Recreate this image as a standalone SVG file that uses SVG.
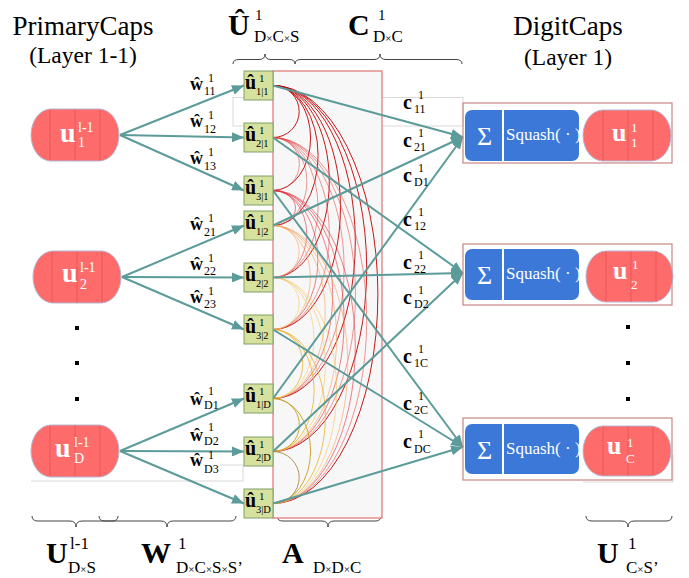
<svg xmlns="http://www.w3.org/2000/svg" width="689" height="578" viewBox="0 0 689 578">
  <defs>
    <style>
      .t { font-family: "Liberation Serif", "Times New Roman", serif; fill: #000; }
      .b { font-weight: bold; }
      .wt { fill: #fff; }
      .x { font-size: 11px; }
      .cap { fill: #fe6b6b; stroke: #b4b8d4; stroke-width: 1; }
      .capline { stroke: #ec5656; stroke-width: 1; }
      .box { fill: #d5e19d; stroke: #7f9f6a; stroke-width: 1; }
      .blue { fill: #3c78d8; }
      .outer { fill: none; stroke: #c98585; stroke-width: 1.2; }
      .brace { fill: none; stroke: #444; stroke-width: 1; }
      .guide { fill: none; stroke: #d9d9d9; stroke-width: 1; }
      .conn { stroke: #5b9b99; stroke-width: 2; fill: none; marker-end: url(#ah); }
      .arc { fill: none; stroke-width: 1; }
      .a0 { stroke: #c00000; stroke-opacity: 0.9; }
      .a1 { stroke: #e04545; stroke-opacity: 0.55; }
      .a2 { stroke: #dd3040; stroke-opacity: 0.6; }
      .a3 { stroke: #f4a25a; stroke-opacity: 0.6; }
      .a4 { stroke: #f5c860; stroke-opacity: 0.6; }
      .a5 { stroke: #eab330; stroke-opacity: 0.8; }
      .a6 { stroke: #c9a020; stroke-opacity: 0.9; }
      .a7 { stroke: #a68a50; stroke-opacity: 0.9; }
    </style>
    <marker id="ah" viewBox="0 0 12 10" refX="12" refY="5" markerWidth="12" markerHeight="10" markerUnits="userSpaceOnUse" orient="auto">
      <path d="M0,0 L12,5 L0,10 z" fill="#5b9b99"/>
    </marker>
  </defs>

  <rect width="689" height="578" fill="#fff"/>

  <!-- faint layout guides -->
  <g id="guides">
    <rect class="guide" x="233" y="97.5" width="230" height="28.5"/>
    <polyline class="guide" points="31,481 243,481 243,465 220,465"/>
    <polyline class="guide" stroke="#f0caca" points="583,482 673,482 673,455"/>
  </g>

  <!-- headings -->
  <g id="headings">
    <text class="t" x="83" y="35" font-size="27" text-anchor="middle">PrimaryCaps</text>
    <text class="t" x="83" y="63" font-size="23.5" text-anchor="middle">(Layer 1-1)</text>
    <text class="t" x="568" y="35" font-size="27" text-anchor="middle">DigitCaps</text>
    <text class="t" x="568" y="65" font-size="23.5" text-anchor="middle">(Layer 1)</text>

    <text class="t b" x="228" y="35" font-size="30">Û</text>
    <text class="t" x="255" y="20" font-size="15">1</text>
    <text class="t" x="254" y="42" font-size="17">D<tspan class="x">×</tspan>C<tspan class="x">×</tspan>S</text>

    <text class="t b" x="348" y="35" font-size="30">C</text>
    <text class="t" x="378" y="20" font-size="15">1</text>
    <text class="t" x="373" y="42" font-size="17">D<tspan class="x">×</tspan>C</text>

    <text class="t b" x="46" y="563" font-size="30">U</text>
    <text class="t" x="70" y="549" font-size="17">l-1</text>
    <text class="t" x="68" y="573" font-size="17">D<tspan class="x">×</tspan>S</text>

    <text class="t b" x="141" y="563" font-size="30">W</text>
    <text class="t" x="178" y="549" font-size="17">1</text>
    <text class="t" x="176" y="573" font-size="17">D<tspan class="x">×</tspan>C<tspan class="x">×</tspan>S<tspan class="x">×</tspan>S’</text>

    <text class="t b" x="282" y="563" font-size="30">A</text>
    <text class="t" x="313" y="573" font-size="17">D<tspan class="x">×</tspan>D<tspan class="x">×</tspan>C</text>

    <text class="t b" x="597" y="563" font-size="30">U</text>
    <text class="t" x="628" y="549" font-size="17">1</text>
    <text class="t" x="626" y="573" font-size="17">C<tspan class="x">×</tspan>S’</text>
  </g>

  <!-- braces -->
  <g id="braces">
    <path class="brace" d="M233,64 Q233,59.5 239,59.5 L259,59.5 Q265,59.5 265,54 Q265,59.5 271,59.5 L289,59.5 Q295,59.5 295,64"/>
    <path class="brace" d="M295,64 Q295,59.5 301,59.5 L374,59.5 Q380,59.5 380,54 Q380,59.5 386,59.5 L456,59.5 Q462,59.5 462,64"/>
    <path class="brace" d="M32,516 Q32,521 38,521 L70,521 Q76,521 76,527 Q76,521 82,521 L112,521 Q118,521 118,516"/>
    <path class="brace" d="M99,516 Q99,521 105,521 L161,521 Q167,521 167,527 Q167,521 173,521 L230,521 Q236,521 236,516"/>
    <path class="brace" d="M277,516 Q277,521 283,521 L322,521 Q328,521 328,527 Q328,521 334,521 L375,521 Q381,521 381,516"/>
    <path class="brace" d="M586,516 Q586,521 592,521 L622,521 Q628,521 628,527 Q628,521 634,521 L666,521 Q672,521 672,516"/>
  </g>

  <!-- coupling matrix panel -->
  <rect id="panel" x="273" y="71" width="109" height="447" fill="#f7f7f7" stroke="#e07272" stroke-width="1.2"/>

  <!-- agreement arcs between predictions -->
  <g id="arcs">
    <path class="arc a0" d="M273,85.5 A26.2,26 0 0 1 273,137.5 M273,85.5 A37.6,52.5 0 0 1 273,190.5 M273,85.5 A45.1,70 0 0 1 273,225.5 M273,85.5 A56.3,96 0 0 1 273,277.5 M273,85.5 A67.5,122 0 0 1 273,329.5 M273,85.5 A82.3,156.5 0 0 1 273,398.5 M273,85.5 A93.7,183 0 0 1 273,451.5 M273,85.5 A104.9,209 0 0 1 273,503.5"/>
    <path class="arc a1" d="M273,137.5 A26.4,26.5 0 0 1 273,190.5 M273,137.5 A33.9,44 0 0 1 273,225.5 M273,137.5 A45.1,70 0 0 1 273,277.5 M273,137.5 A56.3,96 0 0 1 273,329.5 M273,137.5 A71.1,130.5 0 0 1 273,398.5 M273,137.5 A82.5,157 0 0 1 273,451.5 M273,137.5 A93.7,183 0 0 1 273,503.5"/>
    <path class="arc a2" d="M273,190.5 A22.5,17.5 0 0 1 273,225.5 M273,190.5 A33.7,43.5 0 0 1 273,277.5 M273,190.5 A44.9,69.5 0 0 1 273,329.5 M273,190.5 A59.7,104 0 0 1 273,398.5 M273,190.5 A71.1,130.5 0 0 1 273,451.5 M273,190.5 A82.3,156.5 0 0 1 273,503.5"/>
    <path class="arc a3" d="M273,225.5 A26.2,26 0 0 1 273,277.5 M273,225.5 A37.4,52 0 0 1 273,329.5 M273,225.5 A52.2,86.5 0 0 1 273,398.5 M273,225.5 A63.6,113 0 0 1 273,451.5 M273,225.5 A74.8,139 0 0 1 273,503.5"/>
    <path class="arc a4" d="M273,277.5 A26.2,26 0 0 1 273,329.5 M273,277.5 A41,60.5 0 0 1 273,398.5 M273,277.5 A52.4,87 0 0 1 273,451.5 M273,277.5 A63.6,113 0 0 1 273,503.5"/>
    <path class="arc a5" d="M273,329.5 A29.8,34.5 0 0 1 273,398.5 M273,329.5 A41.2,61 0 0 1 273,451.5 M273,329.5 A52.4,87 0 0 1 273,503.5"/>
    <path class="arc a6" d="M273,398.5 A26.4,26.5 0 0 1 273,451.5 M273,398.5 A37.6,52.5 0 0 1 273,503.5"/>
    <path class="arc a7" d="M273,451.5 A26.2,26 0 0 1 273,503.5"/>
  </g>

  <!-- connectors -->
  <g id="connectors">
    <line class="conn" x1="120" y1="135" x2="244" y2="85.5"/>
    <line class="conn" x1="120" y1="135" x2="244" y2="137.5"/>
    <line class="conn" x1="120" y1="135" x2="244" y2="190.5"/>
    <line class="conn" x1="122" y1="277" x2="244" y2="225.5"/>
    <line class="conn" x1="122" y1="277" x2="244" y2="277.5"/>
    <line class="conn" x1="122" y1="277" x2="244" y2="329.5"/>
    <line class="conn" x1="120" y1="451" x2="244" y2="398.5"/>
    <line class="conn" x1="120" y1="451" x2="244" y2="451.5"/>
    <line class="conn" x1="120" y1="451" x2="244" y2="503.5"/>

    <line class="conn" x1="273" y1="85.5" x2="463" y2="137"/>
    <line class="conn" x1="273" y1="137.5" x2="463" y2="273"/>
    <line class="conn" x1="273" y1="190.5" x2="463" y2="447"/>
    <line class="conn" x1="273" y1="225.5" x2="463" y2="137"/>
    <line class="conn" x1="273" y1="277.5" x2="463" y2="273"/>
    <line class="conn" x1="273" y1="329.5" x2="463" y2="447"/>
    <line class="conn" x1="273" y1="398.5" x2="463" y2="137"/>
    <line class="conn" x1="273" y1="451.5" x2="463" y2="273"/>
    <line class="conn" x1="273" y1="503.5" x2="463" y2="447"/>
  </g>

  <!-- transformation weight labels -->
  <g id="weight-labels">
    <text class="t b" x="190" y="90" font-size="18">ŵ</text><text class="t" x="208" y="82" font-size="12">1</text><text class="t" x="204" y="95" font-size="12">11</text>
    <text class="t b" x="190" y="127" font-size="18">ŵ</text><text class="t" x="208" y="119" font-size="12">1</text><text class="t" x="204" y="133" font-size="12">12</text>
    <text class="t b" x="190" y="164" font-size="18">ŵ</text><text class="t" x="208" y="156" font-size="12">1</text><text class="t" x="204" y="170" font-size="12">13</text>
    <text class="t b" x="190" y="230" font-size="18">ŵ</text><text class="t" x="208" y="222" font-size="12">1</text><text class="t" x="204" y="236" font-size="12">21</text>
    <text class="t b" x="190" y="270" font-size="18">ŵ</text><text class="t" x="208" y="262" font-size="12">1</text><text class="t" x="204" y="275" font-size="12">22</text>
    <text class="t b" x="190" y="303" font-size="18">ŵ</text><text class="t" x="208" y="295" font-size="12">1</text><text class="t" x="204" y="308" font-size="12">23</text>
    <text class="t b" x="190" y="405" font-size="18">ŵ</text><text class="t" x="208" y="395" font-size="12">1</text><text class="t" x="204" y="409" font-size="12">D1</text>
    <text class="t b" x="190" y="441" font-size="18">ŵ</text><text class="t" x="208" y="431" font-size="12">1</text><text class="t" x="204" y="445" font-size="12">D2</text>
    <text class="t b" x="190" y="466" font-size="18">ŵ</text><text class="t" x="208" y="459" font-size="12">1</text><text class="t" x="204" y="473" font-size="12">D3</text>
  </g>

  <!-- coupling coefficient labels -->
  <g id="coupling-labels">
    <text class="t b" x="403" y="109" font-size="20">c</text><text class="t" x="418" y="99" font-size="12">1</text><text class="t" x="414" y="113" font-size="12">11</text>
    <text class="t b" x="403" y="147" font-size="20">c</text><text class="t" x="418" y="137" font-size="12">1</text><text class="t" x="414" y="151" font-size="12">21</text>
    <text class="t b" x="403" y="182" font-size="20">c</text><text class="t" x="418" y="172" font-size="12">1</text><text class="t" x="414" y="186" font-size="12">D1</text>
    <text class="t b" x="403" y="226" font-size="20">c</text><text class="t" x="418" y="216" font-size="12">1</text><text class="t" x="414" y="230" font-size="12">12</text>
    <text class="t b" x="403" y="269" font-size="20">c</text><text class="t" x="418" y="259" font-size="12">1</text><text class="t" x="414" y="273" font-size="12">22</text>
    <text class="t b" x="403" y="304" font-size="20">c</text><text class="t" x="418" y="294" font-size="12">1</text><text class="t" x="414" y="308" font-size="12">D2</text>
    <text class="t b" x="403" y="363" font-size="20">c</text><text class="t" x="418" y="353" font-size="12">1</text><text class="t" x="414" y="367" font-size="12">1C</text>
    <text class="t b" x="403" y="410" font-size="20">c</text><text class="t" x="418" y="400" font-size="12">1</text><text class="t" x="414" y="414" font-size="12">2C</text>
    <text class="t b" x="403" y="448" font-size="20">c</text><text class="t" x="418" y="438" font-size="12">1</text><text class="t" x="414" y="453" font-size="12">DC</text>
  </g>

  <!-- primary capsules -->
  <g id="u-prev-1">
    <rect class="cap" x="31" y="109" width="88" height="52" rx="20" ry="26"/>
    <path class="capline" d="M50,109.5 V160.5 M75,109.5 V160.5 M100,109.5 V160.5"/>
    <text class="t b wt" x="60" y="142" font-size="28">u</text>
    <text class="t wt" x="78" y="132" font-size="14">l-1</text>
    <text class="t wt" x="78" y="147" font-size="14">1</text>
  </g>
  <g id="u-prev-2">
    <rect class="cap" x="33" y="251" width="88" height="52" rx="20" ry="26"/>
    <path class="capline" d="M52,251.5 V302.5 M77,251.5 V302.5 M102,251.5 V302.5"/>
    <text class="t b wt" x="62" y="282" font-size="28">u</text>
    <text class="t wt" x="80" y="272" font-size="14">l-1</text>
    <text class="t wt" x="80" y="289" font-size="14">2</text>
  </g>
  <g id="u-prev-D">
    <rect class="cap" x="31" y="425" width="88" height="52" rx="20" ry="26"/>
    <path class="capline" d="M50,425.5 V476.5 M75,425.5 V476.5 M100,425.5 V476.5"/>
    <text class="t b wt" x="55" y="457" font-size="28">u</text>
    <text class="t wt" x="74" y="447" font-size="14">l-1</text>
    <text class="t wt" x="74" y="463" font-size="14">D</text>
  </g>

  <!-- ellipsis dots -->
  <g id="dots" fill="#000">
    <rect x="75" y="326" width="4" height="4"/>
    <rect x="75" y="361" width="4" height="4"/>
    <rect x="75" y="397" width="4" height="4"/>
    <rect x="626" y="325" width="4" height="4"/>
    <rect x="626" y="361" width="4" height="4"/>
    <rect x="626" y="397" width="4" height="4"/>
  </g>

  <!-- prediction vectors -->
  <g id="uhat-1-1"><rect class="box" x="244" y="71" width="29" height="29"/><text class="t b" x="245" y="89" font-size="20">û</text><text class="t" x="259" y="82" font-size="11">1</text><text class="t" x="256" y="95" font-size="10.5">1|1</text></g>
  <g id="uhat-2-1"><rect class="box" x="244" y="123" width="29" height="29"/><text class="t b" x="245" y="141" font-size="20">û</text><text class="t" x="259" y="134" font-size="11">1</text><text class="t" x="256" y="147" font-size="10.5">2|1</text></g>
  <g id="uhat-3-1"><rect class="box" x="244" y="176" width="29" height="29"/><text class="t b" x="245" y="194" font-size="20">û</text><text class="t" x="259" y="187" font-size="11">1</text><text class="t" x="256" y="200" font-size="10.5">3|1</text></g>
  <g id="uhat-1-2"><rect class="box" x="244" y="211" width="29" height="29"/><text class="t b" x="245" y="229" font-size="20">û</text><text class="t" x="259" y="222" font-size="11">1</text><text class="t" x="256" y="235" font-size="10.5">1|2</text></g>
  <g id="uhat-2-2"><rect class="box" x="244" y="263" width="29" height="29"/><text class="t b" x="245" y="281" font-size="20">û</text><text class="t" x="259" y="274" font-size="11">1</text><text class="t" x="256" y="287" font-size="10.5">2|2</text></g>
  <g id="uhat-3-2"><rect class="box" x="244" y="315" width="29" height="29"/><text class="t b" x="245" y="333" font-size="20">û</text><text class="t" x="259" y="326" font-size="11">1</text><text class="t" x="256" y="339" font-size="10.5">3|2</text></g>
  <g id="uhat-1-D"><rect class="box" x="244" y="384" width="29" height="29"/><text class="t b" x="245" y="402" font-size="20">û</text><text class="t" x="259" y="395" font-size="11">1</text><text class="t" x="256" y="408" font-size="10.5">1|D</text></g>
  <g id="uhat-2-D"><rect class="box" x="244" y="437" width="29" height="29"/><text class="t b" x="245" y="455" font-size="20">û</text><text class="t" x="259" y="448" font-size="11">1</text><text class="t" x="256" y="461" font-size="10.5">2|D</text></g>
  <g id="uhat-3-D"><rect class="box" x="244" y="489" width="29" height="29"/><text class="t b" x="245" y="507" font-size="20">û</text><text class="t" x="259" y="500" font-size="11">1</text><text class="t" x="256" y="513" font-size="10.5">3|D</text></g>

  <!-- digit capsules -->
  <g id="digit-1">
    <rect class="outer" x="463" y="103" width="209" height="60"/>
    <rect class="blue" x="465" y="110" width="114" height="51" rx="7"/>
    <line x1="503" y1="110" x2="503" y2="161" stroke="#fff" stroke-width="2"/>
    <text class="t wt" x="477" y="145" font-size="26">Σ</text>
    <text class="t wt" x="506" y="140" font-size="17">Squash( · )</text>
    <rect class="cap" x="583" y="110" width="88" height="51" rx="20" ry="25.5"/>
    <path class="capline" d="M603,110.5 V160.5 M628,110.5 V160.5 M653,110.5 V160.5"/>
    <text class="t b wt" x="612" y="141" font-size="26">u</text>
    <text class="t wt" x="631" y="132" font-size="13">1</text>
    <text class="t wt" x="631" y="147" font-size="13">1</text>
  </g>
  <g id="digit-2">
    <rect class="outer" x="463" y="244" width="209" height="61"/>
    <rect class="blue" x="465" y="249" width="114" height="51" rx="7"/>
    <line x1="503" y1="249" x2="503" y2="300" stroke="#fff" stroke-width="2"/>
    <text class="t wt" x="477" y="284" font-size="26">Σ</text>
    <text class="t wt" x="506" y="279" font-size="17">Squash( · )</text>
    <rect class="cap" x="586" y="251" width="87" height="51" rx="20" ry="25.5"/>
    <path class="capline" d="M606,251.5 V301.5 M631,251.5 V301.5 M656,251.5 V301.5"/>
    <text class="t b wt" x="613" y="279" font-size="26">u</text>
    <text class="t wt" x="632" y="269" font-size="13">1</text>
    <text class="t wt" x="631" y="289" font-size="13">2</text>
  </g>
  <g id="digit-C">
    <rect class="outer" x="463" y="418" width="209" height="62"/>
    <rect class="blue" x="465" y="424" width="114" height="50" rx="7"/>
    <line x1="503" y1="424" x2="503" y2="474" stroke="#fff" stroke-width="2"/>
    <text class="t wt" x="477" y="459" font-size="26">Σ</text>
    <text class="t wt" x="506" y="454" font-size="17">Squash( · )</text>
    <rect class="cap" x="583" y="426" width="88" height="50" rx="20" ry="25"/>
    <path class="capline" d="M603,426.5 V475.5 M628,426.5 V475.5 M653,426.5 V475.5"/>
    <text class="t b wt" x="607" y="454" font-size="26">u</text>
    <text class="t wt" x="627" y="447" font-size="13">1</text>
    <text class="t wt" x="626" y="463" font-size="13">C</text>
  </g>
</svg>
